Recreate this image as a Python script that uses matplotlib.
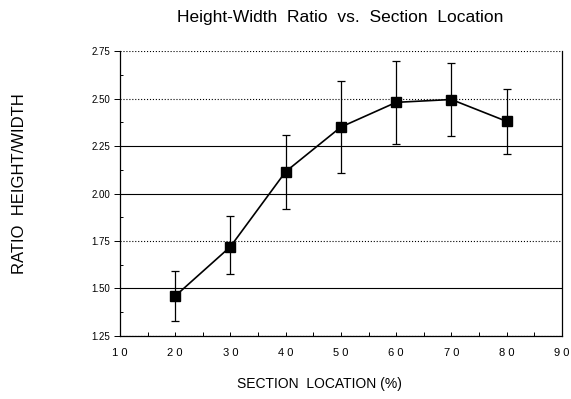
#!/usr/bin/env python3
"""
Height-width ratio vs. section location, with error bars.
"""

import matplotlib
matplotlib.use('Agg')
import matplotlib.pyplot as plt
from matplotlib.ticker import MultipleLocator

# data
section_location = [20, 30, 40, 50, 60, 70, 80]
ratio_mean = [1.46, 1.72, 2.115, 2.35, 2.48, 2.495, 2.38]
ratio_upper = [1.59, 1.88, 2.31, 2.59, 2.70, 2.685, 2.55]
ratio_lower = [1.33, 1.575, 1.92, 2.11, 2.26, 2.305, 2.21]

x_ticks = [10, 20, 30, 40, 50, 60, 70, 80, 90]
y_ticks = [1.25, 1.50, 1.75, 2.00, 2.25, 2.50, 2.75]
y_tick_labels = ['1.25', '1.50', '1.75', '2.00', '2.25', '2.50', '2.75']

plt.rcParams['font.family'] = ['Liberation Sans', 'DejaVu Sans']

fig = plt.figure(figsize=(5.71, 3.99), dpi=100)
ax = fig.add_axes([0.210, 0.158, 0.774, 0.714])

# horizontal grid lines, some look solid, some dotted in the scan
grid_styles = [':', '-', ':', '-', '-', ':', ':']
for yv, ls in zip(y_ticks, grid_styles):
    ax.axhline(yv, color='black', linestyle=ls, linewidth=0.8, zorder=1)

err_low = [m - lo for m, lo in zip(ratio_mean, ratio_lower)]
err_high = [hi - m for m, hi in zip(ratio_mean, ratio_upper)]
ax.errorbar(section_location, ratio_mean, yerr=[err_low, err_high],
            fmt='s-', color='black', markersize=7, linewidth=1.2,
            elinewidth=0.9, capsize=3, capthick=0.9, zorder=3)

ax.set_xlim(10, 90)
ax.set_ylim(1.25, 2.75)
ax.set_xticks(x_ticks)
ax.set_xticklabels([' '.join(str(v)) for v in x_ticks], fontsize=8)
ax.set_yticks(y_ticks)
ax.set_yticklabels(y_tick_labels, fontsize=7)
ax.xaxis.set_minor_locator(MultipleLocator(5))
ax.yaxis.set_minor_locator(MultipleLocator(0.125))
ax.tick_params(axis='x', which='both', direction='in', length=3, width=0.7, pad=9)
ax.tick_params(axis='y', which='major', direction='out', length=4, width=0.7, pad=3)
ax.tick_params(axis='y', which='minor', direction='in', length=2, width=0.7)

ax.spines['top'].set_visible(False)
for side in ['left', 'right', 'bottom']:
    ax.spines[side].set_linewidth(0.9)

fig.text(0.595, 0.955, 'Height-Width  Ratio  vs.  Section  Location',
         ha='center', va='center', fontsize=12.5)
fig.text(0.56, 0.038, 'SECTION  LOCATION (%)', ha='center', va='center', fontsize=10)
fig.text(0.034, 0.541, 'RATIO  HEIGHT/WIDTH', ha='center', va='center',
         rotation=90, fontsize=12)

plt.savefig('out.png', dpi=100)
plt.close()
